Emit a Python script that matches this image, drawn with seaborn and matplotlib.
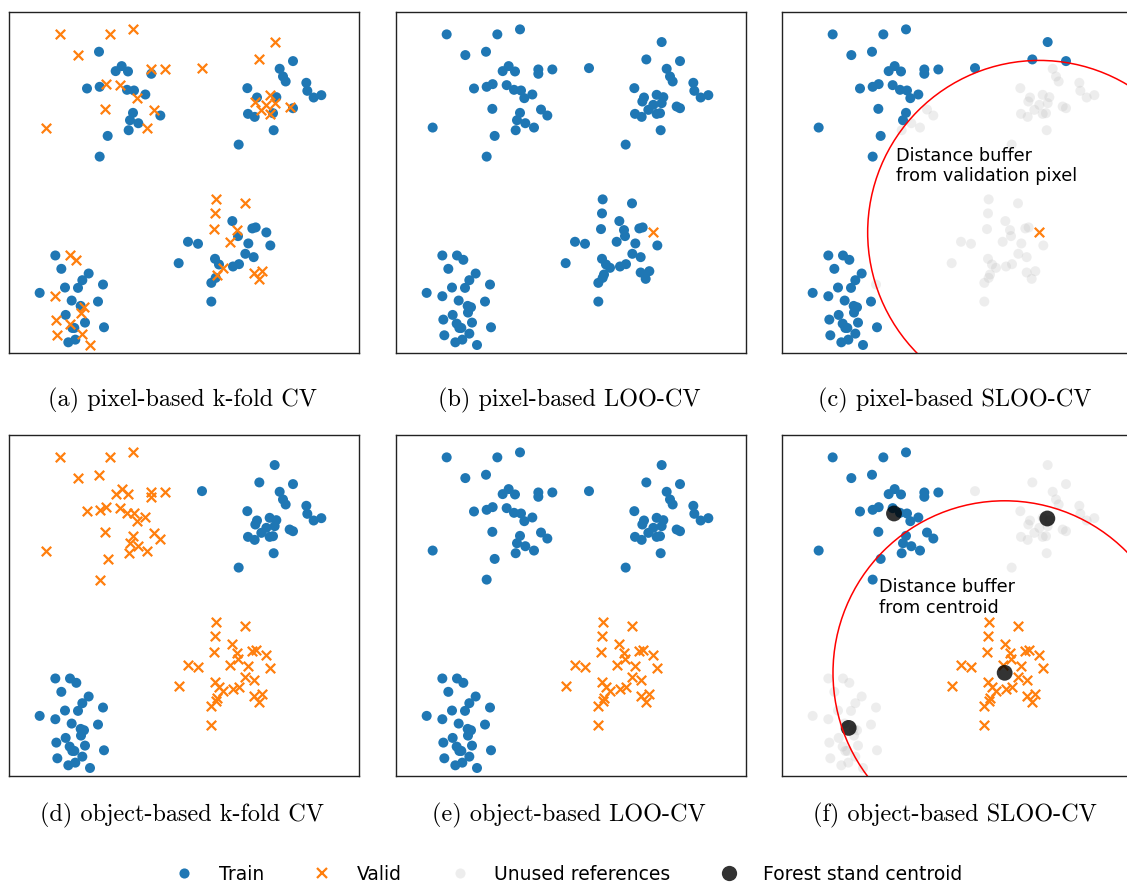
import numpy as np
import pandas as pd
import matplotlib
matplotlib.use("Agg")
import matplotlib.pyplot as plt
from matplotlib.lines import Line2D
from matplotlib.patches import Circle
import seaborn as sns

# reference pixels, one list per forest stand (map units, y grows downwards)
# *_kf = 1 where the pixel is in the validation fold of the pixel-based k-fold CV
nw_x = [170, 322, 390, 226, 288, 338, 356, 375, 445, 445, 487, 252, 290, 308, 350,
        372, 393, 403, 427, 307, 390, 381, 406, 453, 472, 128, 377, 432, 314, 290]
nw_y = [104, 104, 89, 166, 156, 214, 199, 215, 209, 222, 209, 266, 261, 253, 256,
        270, 272, 295, 284, 327, 339, 361, 370, 329, 347, 383, 391, 383, 408, 470]
nw_kf = [1, 1, 1, 1, 0, 0, 0, 0, 1, 0, 1, 0, 0, 1, 1,
         0, 0, 1, 0, 1, 0, 0, 0, 1, 0, 1, 0, 1, 0, 0]

ne_x = [597, 815, 769, 870, 830, 840, 848, 910, 913, 932, 955, 733, 762, 757,
        800, 820, 815, 790, 775, 860, 870, 735, 755, 800, 810, 812, 707]
ne_y = [205, 127, 179, 184, 207, 230, 245, 249, 273, 293, 286, 265, 293, 305,
        285, 292, 310, 315, 330, 320, 325, 342, 351, 342, 340, 391, 434]
ne_kf = [1, 1, 1, 0, 0, 0, 0, 0, 0, 0, 0, 0, 0, 1,
         1, 0, 1, 1, 1, 1, 0, 0, 0, 1, 0, 0, 0]

se_x = [638, 726, 636, 688, 633, 702, 705, 748, 758, 790, 802, 555, 585, 680, 736,
        727, 752, 527, 636, 648, 660, 690, 708, 642, 638, 625, 752, 778, 767, 625]
se_y = [598, 610, 640, 663, 687, 690, 708, 685, 682, 697, 736, 725, 731, 725, 730,
        761, 771, 789, 776, 793, 803, 799, 792, 823, 833, 848, 817, 813, 836, 904]
se_kf = [1, 1, 1, 0, 1, 1, 0, 0, 0, 0, 0, 0, 0, 1, 0,
         0, 0, 0, 0, 0, 1, 0, 0, 1, 0, 0, 1, 1, 1, 0]

sw_x = [157, 201, 220, 175, 257, 238, 225, 186, 300, 110, 157, 206, 285, 233,
        243, 234, 188, 160, 200, 214, 246, 303, 163, 238, 196, 217, 261, 208]
sw_y = [766, 766, 779, 806, 820, 840, 863, 862, 853, 878, 888, 901, 904, 917,
        921, 937, 944, 958, 970, 983, 967, 981, 1005, 1000, 1026, 1018, 1034, 983]
sw_kf = [0, 1, 1, 0, 0, 0, 0, 0, 0, 0, 1, 0, 0, 0,
         1, 1, 0, 1, 1, 0, 0, 0, 1, 1, 0, 0, 1, 0]

stands = ["nw", "ne", "se", "sw"]
centroid_x = [354, 814, 686, 218]
centroid_y = [272, 287, 749, 914]

loo_pixel = (790, 697)        # validation pixel of the LOO examples
buffer_radius = 515           # spatial buffer of SLOO-CV
object_kfold_valid = ["nw", "se"]
object_loo_valid = "se"

captions = ["(a) pixel-based k-fold CV", "(b) pixel-based LOO-CV", "(c) pixel-based SLOO-CV",
            "(d) object-based k-fold CV", "(e) object-based LOO-CV", "(f) object-based SLOO-CV"]
legend_labels = ["Train", "Valid", "Unused references", "Forest stand centroid"]

df = pd.concat([
    pd.DataFrame({"x": nw_x, "y": nw_y, "kf": nw_kf, "stand": "nw"}),
    pd.DataFrame({"x": ne_x, "y": ne_y, "kf": ne_kf, "stand": "ne"}),
    pd.DataFrame({"x": se_x, "y": se_y, "kf": se_kf, "stand": "se"}),
    pd.DataFrame({"x": sw_x, "y": sw_y, "kf": sw_kf, "stand": "sw"}),
], ignore_index=True)
cent = pd.DataFrame({"stand": stands, "x": centroid_x, "y": centroid_y}).set_index("stand")

is_loo = (df["x"] == loo_pixel[0]) & (df["y"] == loo_pixel[1])
d_pix = np.hypot(df["x"] - loo_pixel[0], df["y"] - loo_pixel[1])
se_c = cent.loc[object_loo_valid]
d_obj = np.hypot(cent["x"] - se_c["x"], cent["y"] - se_c["y"])

roles = {
    "a": np.where(df["kf"] == 1, "valid", "train"),
    "b": np.where(is_loo, "valid", "train"),
    "c": np.where(is_loo, "valid", np.where(d_pix < buffer_radius, "unused", "train")),
    "d": np.where(df["stand"].isin(object_kfold_valid), "valid", "train"),
    "e": np.where(df["stand"] == object_loo_valid, "valid", "train"),
    "f": np.where(df["stand"] == object_loo_valid, "valid",
                  np.where(df["stand"].map(d_obj) < buffer_radius, "unused", "train")),
}

BLUE, ORANGE = "#1f77b4", "#ff7f0e"
STYLE = {
    "unused": dict(color="#bbbbbb", marker="o", s=52, alpha=0.25, edgecolor="none", linewidth=0),
    "train": dict(color=BLUE, marker="o", s=52, edgecolor="none", linewidth=0),
    "valid": dict(color=ORANGE, marker="x", s=46, linewidth=1.6),
}

sns.set_style("white")
plt.rcParams["text.color"] = "black"
W, H = 1127, 885
fig = plt.figure(figsize=(W / 100, H / 100), dpi=100)

col_left = [9, 396, 782]
row_top = [12, 435]
ax_w, ax_h = 350, 341
caption_y = [400, 815]

for i, key in enumerate("abcdef"):
    r, c = divmod(i, 3)
    ax = fig.add_axes([col_left[c] / W, 1 - (row_top[r] + ax_h) / H, ax_w / W, ax_h / H])
    panel = df.assign(role=roles[key])
    for role in ["unused", "train", "valid"]:
        sub = panel[panel["role"] == role]
        if len(sub):
            sns.scatterplot(data=sub, x="x", y="y", ax=ax, legend=False, **STYLE[role])
    if key == "c":
        ax.add_patch(Circle(loo_pixel, buffer_radius, fill=False, color="red", lw=1.1))
        ax.text(361, 440, "Distance buffer\nfrom validation pixel", fontsize=12.7,
                ha="left", va="top", color="black")
    if key == "f":
        sns.scatterplot(data=cent, x="x", y="y", ax=ax, legend=False, color="black",
                        alpha=0.8, s=130, edgecolor="none", linewidth=0)
        ax.add_patch(Circle((se_c["x"], se_c["y"]), buffer_radius, fill=False,
                            color="red", lw=1.1))
        ax.text(309, 466, "Distance buffer\nfrom centroid", fontsize=12.7,
                ha="left", va="top", color="black")
    ax.set_xlim(18, 1068)
    ax.set_ylim(1058, 37)
    ax.set_xticks([])
    ax.set_yticks([])
    ax.set_xlabel("")
    ax.set_ylabel("")
    for sp in ax.spines.values():
        sp.set_color("#222222")
        sp.set_linewidth(1.0)
    fig.text((col_left[c] + ax_w / 2 - 2) / W, 1 - caption_y[r] / H, captions[i],
             ha="center", va="center", fontsize=17.5, family="cmr10", color="black")

handles = [
    Line2D([], [], linestyle="", marker="o", color=BLUE, markersize=7.3, markeredgewidth=0),
    Line2D([], [], linestyle="", marker="x", color=ORANGE, markersize=6.8, markeredgewidth=1.6),
    Line2D([], [], linestyle="", marker="o", color="#bbbbbb", alpha=0.25, markersize=7.3,
           markeredgewidth=0),
    Line2D([], [], linestyle="", marker="o", color="black", alpha=0.8, markersize=11,
           markeredgewidth=0),
]
fig.legend(handles, legend_labels, loc="center", bbox_to_anchor=(0.5045, 1 - 874 / H),
           ncol=4, frameon=False, fontsize=13.5, handlelength=1.0, handletextpad=1.35,
           columnspacing=2.6)

fig.savefig("out.png", dpi=100)
